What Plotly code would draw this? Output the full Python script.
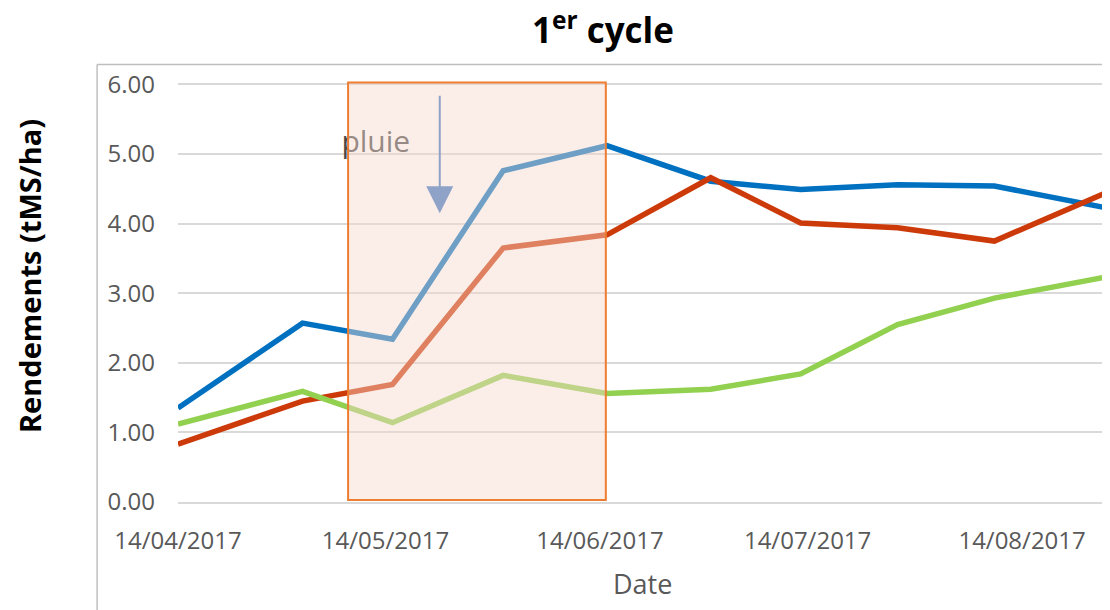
import plotly.graph_objects as go

# Dates des mesures et rendements (tMS/ha) des trois parcelles
dates = ["2017-04-14", "2017-05-02", "2017-05-15", "2017-05-31", "2017-06-15",
         "2017-06-30", "2017-07-13", "2017-07-27", "2017-08-10", "2017-08-26"]
serie_bleue = [1.35, 2.57, 2.34, 4.76, 5.12, 4.61, 4.49, 4.56, 4.54, 4.23]
serie_rouge = [0.83, 1.45, 1.69, 3.65, 3.84, 4.66, 4.01, 3.94, 3.75, 4.44]
serie_verte = [1.12, 1.59, 1.14, 1.82, 1.56, 1.62, 1.84, 2.55, 2.93, 3.23]

tick_dates = ["2017-04-14", "2017-05-14", "2017-06-14", "2017-07-14", "2017-08-14"]
tick_labels = ["14/04/2017", "14/05/2017", "14/06/2017", "14/07/2017", "14/08/2017"]

GRIS = "#595959"
FONT = "Open Sans"

fig = go.Figure()

for valeurs, couleur in [(serie_bleue, "#0070C0"), (serie_rouge, "#CC3A0A"), (serie_verte, "#92D050")]:
    fig.add_trace(go.Scatter(x=dates, y=valeurs, mode="lines",
                             line=dict(color=couleur, width=5.5), showlegend=False))

# texte "pluie" en trace pour qu'il passe sous le rectangle
fig.add_trace(go.Scatter(x=["2017-05-12 14:00"], y=[5.14], mode="text", text=["pluie"],
                         textposition="middle center", showlegend=False, hoverinfo="skip",
                         textfont=dict(family=FONT, size=30, color="#4a4a4a")))

# Période de pluie (rectangle semi-transparent au-dessus des courbes)
fig.add_shape(type="rect", xref="x", yref="y",
              x0="2017-05-08 14:00", x1="2017-06-14 20:00", y0=0.03, y1=6.03,
              fillcolor="rgba(246,218,204,0.45)", line=dict(color="#ED7D31", width=2),
              layer="above")

# Flèche
fig.add_annotation(x="2017-05-21 20:00", y=4.15, ax="2017-05-21 20:00", ay=5.86,
                   xref="x", yref="y", axref="x", ayref="y", text="",
                   showarrow=True, arrowhead=2, arrowsize=2.7, arrowwidth=2,
                   arrowcolor="#8FA2C8")

# Bordure de la zone de graphique (style Excel)
fig.add_shape(type="line", xref="paper", yref="paper", x0=-0.087, x1=1.01, y0=1.039, y1=1.039,
              line=dict(color="#BFBFBF", width=1.5))
fig.add_shape(type="line", xref="paper", yref="paper", x0=-0.087, x1=-0.087, y0=1.039, y1=-0.3,
              line=dict(color="#BFBFBF", width=1.5))

# Titres des axes
fig.add_annotation(x=-0.159, y=0.537, xref="paper", yref="paper", text="<b>Rendements (tMS/ha)</b>",
                   xanchor="center", yanchor="middle",
                   textangle=-90, showarrow=False, font=dict(family=FONT, size=29, color="black"))
fig.add_annotation(x=0.499, y=-0.193, xref="paper", yref="paper", text="Date",
                   xanchor="center", yanchor="middle",
                   showarrow=False, font=dict(family=FONT, size=27, color=GRIS))

# la page a 8px de marge, la figure est donc un peu plus petite que la fenêtre
fig.update_layout(
    width=1102, height=602,
    margin=dict(l=170, r=2, t=73, b=108),
    paper_bgcolor="white", plot_bgcolor="white",
    title=dict(text="<b>1<sup>er</sup> cycle</b>", x=595 / 1102, xref="container", xanchor="center",
               y=1 - 23 / 602, yanchor="middle", font=dict(family=FONT, size=35, color="black")),
    xaxis=dict(type="date", range=["2017-04-14", "2017-08-26 10:00"], automargin=False,
               tickvals=tick_dates, ticktext=tick_labels, showgrid=False,
               showline=True, linecolor="#D9D9D9", linewidth=1.5, ticks="",
               tickfont=dict(family=FONT, size=24, color=GRIS), ticklabelstandoff=16),
    yaxis=dict(range=[0, 6.05], tickvals=[0, 1, 2, 3, 4, 5, 6], tickformat=".2f", automargin=False,
               showgrid=True, gridcolor="#D9D9D9", gridwidth=1.5, zeroline=False, ticks="",
               tickfont=dict(family=FONT, size=24, color=GRIS), ticklabelstandoff=22),
)

fig.write_html("out.html")
